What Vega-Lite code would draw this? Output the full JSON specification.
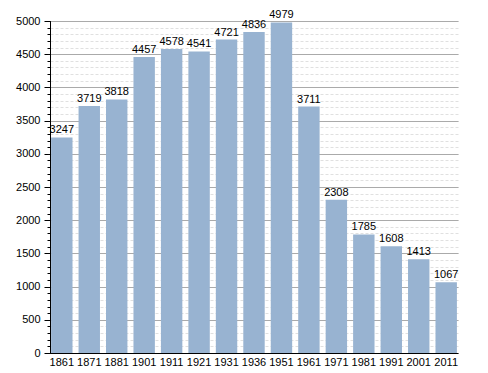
{
  "$schema": "https://vega.github.io/schema/vega-lite/v6.json",
  "width": 408,
  "height": 332,
  "autosize": "none",
  "padding": {"left": 50, "top": 21, "right": 30, "bottom": 20},
  "background": "white",
  "config": {"view": {"stroke": null}, "font": "Liberation Sans"},
  "data": {"values": [
    {"year": "1861", "pop": 3247},
    {"year": "1871", "pop": 3719},
    {"year": "1881", "pop": 3818},
    {"year": "1901", "pop": 4457},
    {"year": "1911", "pop": 4578},
    {"year": "1921", "pop": 4541},
    {"year": "1931", "pop": 4721},
    {"year": "1936", "pop": 4836},
    {"year": "1951", "pop": 4979},
    {"year": "1961", "pop": 3711},
    {"year": "1971", "pop": 2308},
    {"year": "1981", "pop": 1785},
    {"year": "1991", "pop": 1608},
    {"year": "2001", "pop": 1413},
    {"year": "2011", "pop": 1067}
  ]},
  "encoding": {
    "x": {"field": "year", "type": "ordinal", "sort": null,
      "scale": {"paddingInner": 0.22, "paddingOuter": 0.04},
      "axis": {"title": null, "labelAngle": 0, "labelFontSize": 11, "labelColor": "#000", "domainColor": "#000", "ticks": false, "labelPadding": 3, "grid": false}},
    "y": {"field": "pop", "type": "quantitative", "scale": {"domain": [0, 5000], "nice": false}}
  },
  "layer": [
    {
      "mark": {"type": "bar", "color": "#98b3d1"},
      "encoding": {
        "y": {"field": "pop", "type": "quantitative", "scale": {"domain": [0, 5000], "nice": false},
          "axis": {"title": null, "orient": "left", "values": [0,100,200,300,400,500,600,700,800,900,1000,1100,1200,1300,1400,1500,1600,1700,1800,1900,2000,2100,2200,2300,2400,2500,2600,2700,2800,2900,3000,3100,3200,3300,3400,3500,3600,3700,3800,3900,4000,4100,4200,4300,4400,4500,4600,4700,4800,4900,5000],
            "labels": false, "grid": true, "gridColor": "#e0e0e0", "gridDash": [3, 2], "tickSize": 3, "tickColor": "#000", "domainColor": "#000", "zindex": 0}}
      }
    },
    {
      "mark": {"type": "text", "dy": -7, "fontSize": 11, "color": "#000"},
      "encoding": {
        "text": {"field": "pop", "type": "quantitative", "format": "d"},
        "y": {"field": "pop", "type": "quantitative", "scale": {"domain": [0, 5000], "nice": false},
          "axis": {"title": null, "orient": "left", "values": [0,500,1000,1500,2000,2500,3000,3500,4000,4500,5000], "format": "d",
            "grid": true, "gridColor": "#aaaaaa", "tickSize": 6, "tickColor": "#000", "domainColor": "#000", "labelFontSize": 11, "labelColor": "#000", "labelPadding": 4, "zindex": 0}}
      }
    }
  ],
  "resolve": {"axis": {"y": "independent"}}
}
